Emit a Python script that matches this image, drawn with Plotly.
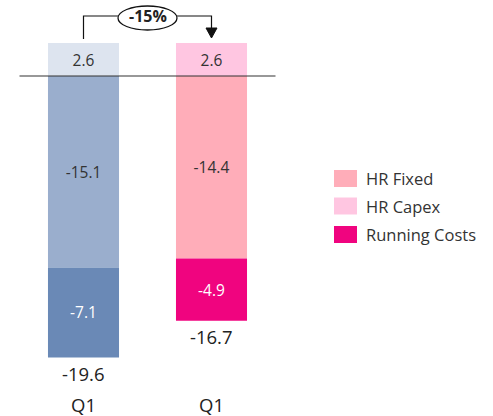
import plotly.graph_objects as go

# Cost breakdown per period (values in millions)
periods = ["Q1", "Q1"]
hr_capex = [2.6, 2.6]
hr_fixed = [-15.1, -14.4]
running_costs = [-7.1, -4.9]

capex_colors = ["#dde4ef", "#ffc6e1"]
fixed_colors = ["#9aaecd", "#ffadb9"]
running_colors = ["#6a89b6", "#f0047f"]

legend_names = ["HR Fixed", "HR Capex", "Running Costs"]
legend_colors = ["#ffadb9", "#ffc6e1", "#f0047f"]

xs = [0, 1]
totals = [round(c + f + r, 1) for c, f, r in zip(hr_capex, hr_fixed, running_costs)]
bottoms = [f + r for f, r in zip(hr_fixed, running_costs)]
change_pct = round((totals[1] / totals[0] - 1) * 100)

W, H = 493, 416
MB = 24
PH = H - MB  # plot-area height in pixels
px_per_unit = 12.68
zero_px = 76
y_top = zero_px / px_per_unit
y_bot = -(PH - zero_px) / px_per_unit
bar_px = 128
x0_px = 83.5
x_lo = -x0_px / bar_px
x_hi = (W - x0_px) / bar_px

FONT = "Open Sans, DejaVu Sans, sans-serif"
DARK = "#333333"

fig = go.Figure()

def seg(vals, colors, tcolor):
    fig.add_trace(go.Bar(
        x=xs, y=vals, width=0.555,
        marker=dict(color=colors, line=dict(width=0)),
        text=[f"{v:.1f}" for v in vals],
        textposition="inside", insidetextanchor="middle",
        textfont=dict(family=FONT, size=15.5, color=tcolor),
        constraintext="none", showlegend=False, hoverinfo="skip",
    ))

seg(hr_capex, capex_colors, DARK)
seg(hr_fixed, fixed_colors, DARK)
seg(running_costs, running_colors, "white")

# Net totals under each stacked bar
for x, b, t in zip(xs, bottoms, totals):
    fig.add_annotation(x=x, y=b, text=f"{t:.1f}", showarrow=False,
                       yanchor="top", yshift=-1,
                       font=dict(family=FONT, size=18.5, color="#222222"))

# Zero baseline
fig.add_shape(type="line", x0=-0.5, x1=1.5, y0=0, y1=0,
              line=dict(color=DARK, width=1.2), layer="above")

# Change bracket between the two bars
top_y = (zero_px - 16) / px_per_unit
left_bottom = (zero_px - 39) / px_per_unit
tip_y = (zero_px - 38) / px_per_unit
base_y = (zero_px - 28) / px_per_unit
half_w = 5.5 / bar_px
fig.add_shape(type="path",
              path=f"M 0 {left_bottom} L 0 {top_y} L 1 {top_y} L 1 {base_y}",
              line=dict(color="#111111", width=1.2))
fig.add_shape(type="path",
              path=f"M {1 - half_w} {base_y} L {1 + half_w} {base_y} L 1 {tip_y} Z",
              fillcolor="#111111", line=dict(color="#111111", width=1))
fig.add_shape(type="circle",
              x0=(118 - x0_px) / bar_px, x1=(177 - x0_px) / bar_px,
              y0=(zero_px - 30) / px_per_unit, y1=(zero_px - 6) / px_per_unit,
              fillcolor="white", line=dict(color="#111111", width=1.3))
fig.add_annotation(x=0.5, y=top_y, text=f"<b>{change_pct}%</b>", showarrow=False,
                   font=dict(family=FONT, size=16, color="#222222"))

# Legend (swatches and labels placed in plot-area fractions)
rows = [178.5, 206, 234.5]
for name, col, cy in zip(legend_names, legend_colors, rows):
    fig.add_shape(type="rect", xref="paper", yref="paper",
                  x0=334 / W, x1=357 / W,
                  y0=1 - (cy + 8.5) / PH, y1=1 - (cy - 8.5) / PH,
                  fillcolor=col, line=dict(width=0))
    fig.add_annotation(xref="paper", yref="paper", x=364 / W, y=1 - cy / PH,
                       text=name, showarrow=False, xanchor="left", yanchor="middle",
                       font=dict(family=FONT, size=16.5, color=DARK))

fig.update_layout(
    width=W, height=H, barmode="relative",
    margin=dict(l=0, r=0, t=0, b=MB),
    paper_bgcolor="white", plot_bgcolor="white",
    xaxis=dict(range=[x_lo, x_hi], tickvals=xs, ticktext=periods,
               showgrid=False, zeroline=False, showline=False, ticks="",
               tickfont=dict(family=FONT, size=18.5, color="#222222")),
    yaxis=dict(range=[y_bot, y_top], visible=False),
    showlegend=False,
)

fig.write_html("out.html")
